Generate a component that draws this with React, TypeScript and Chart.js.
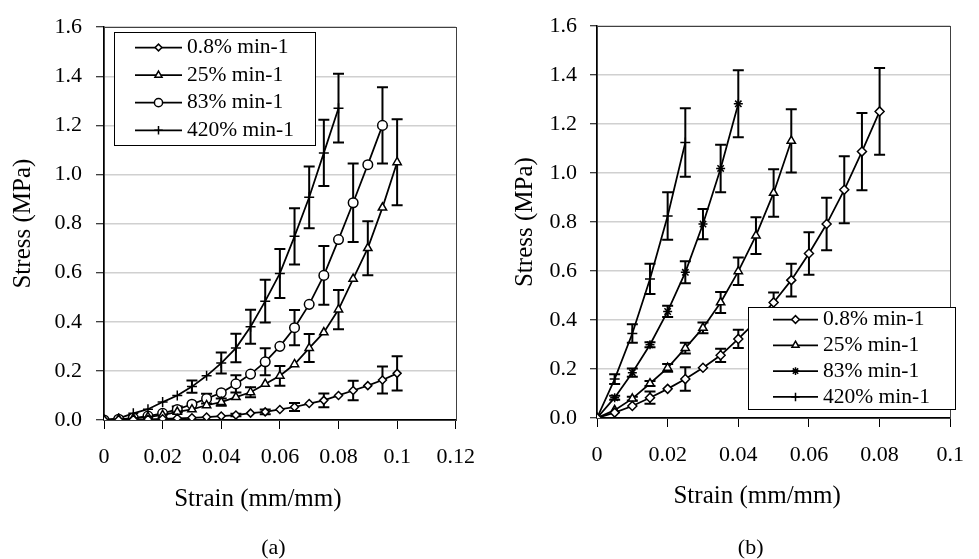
import React, { useEffect, useRef } from 'react';
import { Chart, registerables } from 'chart.js';
import { drawPoint } from 'chart.js/helpers';

Chart.register(...registerables);

const FONT = '"Liberation Serif", "Times New Roman", serif';

const SERIES_LABELS = ['0.8% min-1', '25% min-1', '83% min-1', '420% min-1'];

// strain sampling points (mm/mm)
const STRAIN = [
  0, 0.005, 0.01, 0.015, 0.02, 0.025, 0.03, 0.035, 0.04, 0.045, 0.05,
  0.055, 0.06, 0.065, 0.07, 0.075, 0.08, 0.085, 0.09, 0.095, 0.1,
];

// ---- panel (a) ----
const A_STRESS_08 = [0, 0.001, 0.002, 0.003, 0.005, 0.007, 0.009, 0.012, 0.016, 0.02, 0.028, 0.033, 0.043, 0.053, 0.067, 0.08, 0.1, 0.12, 0.14, 0.163, 0.19];
const A_ERR_08 = [0, 0, 0, 0, 0, 0, 0, 0, 0, 0.005, 0, 0.01, 0, 0.016, 0, 0.028, 0, 0.04, 0, 0.055, 0.07];
const A_STRESS_25 = [0, 0.003, 0.007, 0.013, 0.02, 0.033, 0.043, 0.06, 0.073, 0.093, 0.113, 0.147, 0.18, 0.227, 0.293, 0.357, 0.45, 0.575, 0.7, 0.865, 1.05];
const A_ERR_25 = [0, 0, 0, 0, 0, 0, 0, 0, 0.015, 0, 0.02, 0, 0.04, 0, 0.057, 0, 0.08, 0, 0.11, 0, 0.175];
const A_STRESS_83 = [0, 0.003, 0.008, 0.016, 0.027, 0.043, 0.064, 0.087, 0.111, 0.147, 0.187, 0.237, 0.3, 0.376, 0.471, 0.589, 0.735, 0.885, 1.04, 1.2];
const A_ERR_83 = [0, 0, 0, 0, 0, 0.012, 0, 0.02, 0, 0.035, 0, 0.055, 0, 0.072, 0, 0.12, 0, 0.16, 0, 0.155];
const A_STRESS_420 = [0, 0.007, 0.027, 0.044, 0.073, 0.1, 0.136, 0.18, 0.232, 0.293, 0.38, 0.484, 0.597, 0.748, 0.907, 1.088, 1.27];
const A_ERR_420 = [0, 0, 0, 0, 0, 0, 0.025, 0, 0.043, 0.058, 0.069, 0.087, 0.1, 0.115, 0.126, 0.135, 0.14];

// ---- panel (b) ----
const B_STRESS_08 = [0, 0.022, 0.049, 0.083, 0.119, 0.159, 0.205, 0.256, 0.323, 0.395, 0.472, 0.563, 0.672, 0.792, 0.932, 1.088, 1.252];
const B_ERR_08 = [0, 0, 0, 0.025, 0, 0.048, 0, 0.027, 0.037, 0, 0.041, 0.067, 0.087, 0.107, 0.137, 0.158, 0.177];
const B_STRESS_25 = [0, 0.032, 0.079, 0.141, 0.205, 0.285, 0.368, 0.472, 0.599, 0.745, 0.919, 1.132];
const B_ERR_25 = [0, 0, 0.008, 0.01, 0.016, 0.022, 0.022, 0.043, 0.056, 0.075, 0.097, 0.129];
const B_STRESS_83 = [0, 0.083, 0.185, 0.299, 0.435, 0.595, 0.792, 1.019, 1.283];
const B_ERR_83 = [0, 0.008, 0.017, 0.01, 0.023, 0.045, 0.062, 0.097, 0.137];
const B_STRESS_420 = [0, 0.159, 0.345, 0.568, 0.825, 1.125];
const B_ERR_420 = [0, 0.02, 0.038, 0.062, 0.097, 0.14];

// tick labels
const Y_TICKS = ['0.0', '0.2', '0.4', '0.6', '0.8', '1.0', '1.2', '1.4', '1.6'];
const X_TICKS_A = ['0', '0.02', '0.04', '0.06', '0.08', '0.1', '0.12'];
const X_TICKS_B = ['0', '0.02', '0.04', '0.06', '0.08', '0.1'];

const X_TITLE = 'Strain (mm/mm)';
const Y_TITLE = 'Stress (MPa)';

const errorBarPlugin = {
  id: 'errorBars',
  beforeDatasetsDraw(chart: any) {
    const { ctx } = chart;
    const xs = chart.scales.x;
    const ys = chart.scales.y;
    ctx.save();
    ctx.strokeStyle = '#000';
    ctx.lineWidth = 2;
    const cap = 5.5;
    chart.data.datasets.forEach((ds: any) => {
      const errs: number[] = ds.errors;
      if (!errs) return;
      ds.data.forEach((p: any, i: number) => {
        const e = errs[i];
        if (!e) return;
        const px = xs.getPixelForValue(p.x);
        const y1 = ys.getPixelForValue(p.y - e);
        const y2 = ys.getPixelForValue(p.y + e);
        ctx.beginPath();
        ctx.moveTo(px, y1);
        ctx.lineTo(px, y2);
        ctx.moveTo(px - cap, y1);
        ctx.lineTo(px + cap, y1);
        ctx.moveTo(px - cap, y2);
        ctx.lineTo(px + cap, y2);
        ctx.stroke();
      });
    });
    ctx.restore();
  },
};

const frameTextPlugin = {
  id: 'frameText',
  beforeDatasetsDraw(chart: any) {
    const { ctx, chartArea: a } = chart;
    ctx.save();
    ctx.strokeStyle = '#404040';
    ctx.lineWidth = 1;
    ctx.strokeRect(Math.round(a.left) + 0.5, Math.round(a.top) + 0.5, Math.round(a.right - a.left), Math.round(a.bottom - a.top));
    ctx.restore();
  },
  afterDraw(chart: any, _args: any, opts: any) {
    const { ctx } = chart;
    const xs = chart.scales.x;
    const cx = (xs.left + xs.right) / 2;
    ctx.save();
    ctx.fillStyle = '#000';
    ctx.textAlign = 'center';
    ctx.textBaseline = 'middle';
    ctx.font = `25px ${FONT}`;
    ctx.fillText(opts.title, cx + opts.titleDx, opts.titleY);
    ctx.font = `22px ${FONT}`;
    ctx.fillText(opts.caption, cx + opts.captionDx, opts.captionY);
    ctx.restore();
  },
};

const boxLegendPlugin = {
  id: 'boxLegend',
  afterDatasetsDraw(chart: any, _args: any, o: any) {
    const { ctx } = chart;
    ctx.save();
    ctx.fillStyle = '#fff';
    ctx.fillRect(o.x, o.y, o.w, o.h);
    ctx.strokeStyle = '#000';
    ctx.lineWidth = 1;
    ctx.strokeRect(o.x + 0.5, o.y + 0.5, o.w, o.h);
    chart.data.datasets.forEach((ds: any, i: number) => {
      const cy = o.y + o.rowStart + i * o.rowGap;
      ctx.beginPath();
      ctx.moveTo(o.lineX1, cy);
      ctx.lineTo(o.lineX2, cy);
      ctx.strokeStyle = '#000';
      ctx.lineWidth = ds.borderWidth;
      ctx.stroke();
      ctx.fillStyle = '#fff';
      ctx.strokeStyle = '#000';
      ctx.lineWidth = ds.pointBorderWidth;
      drawPoint(ctx, { pointStyle: ds.pointStyle, radius: ds.pointRadius * 0.85, rotation: 0, borderWidth: ds.pointBorderWidth } as any, (o.lineX1 + o.lineX2) / 2, cy);
      ctx.fillStyle = '#000';
      ctx.font = `21.5px ${FONT}`;
      ctx.textAlign = 'left';
      ctx.textBaseline = 'middle';
      ctx.fillText(ds.label, o.textX, cy);
    });
    ctx.restore();
  },
};

function series(label: string, values: number[], errs: number[], style: string, radius: number) {
  return {
    label,
    data: values.map((v, i) => ({ x: STRAIN[i], y: v })),
    errors: errs,
    showLine: true,
    borderColor: '#000',
    borderWidth: 1.75,
    pointStyle: style,
    pointRadius: radius,
    pointBackgroundColor: '#fff',
    pointBorderColor: '#000',
    pointBorderWidth: 1.5,
    tension: 0,
  };
}

function makeConfig(p: any) {
  return {
    type: 'scatter',
    data: { datasets: p.datasets },
    plugins: [errorBarPlugin, frameTextPlugin, boxLegendPlugin],
    options: {
      responsive: false,
      animation: false,
      layout: { padding: { top: p.padTop, right: p.padRight, left: 0, bottom: 0 } },
      plugins: {
        legend: { display: false },
        tooltip: { enabled: false },
        frameText: p.text,
        boxLegend: p.legend,
      },
      scales: {
        x: {
          type: 'linear',
          min: 0,
          max: p.xMax,
          afterFit: (s: any) => { s.height = p.xAxisH; },
          ticks: {
            stepSize: 0.02,
            padding: 15,
            color: '#000',
            font: { size: 22, family: FONT },
            maxRotation: 0,
            autoSkip: false,
            callback: (_v: any, i: number) => p.xTicks[i],
          },
          grid: { drawOnChartArea: false, tickLength: 9, tickColor: '#000', tickWidth: 1 },
          border: { color: '#000', width: 1.5 },
        },
        y: {
          type: 'linear',
          min: 0,
          max: 1.6,
          afterFit: (s: any) => { s.width = p.yAxisW; },
          ticks: {
            stepSize: 0.2,
            padding: p.yTickPad,
            color: '#000',
            font: { size: 22, family: FONT },
            autoSkip: false,
            callback: (_v: any, i: number) => Y_TICKS[i],
          },
          grid: { color: '#d0d0d0', lineWidth: 1.5, tickLength: p.yTickLen, tickColor: '#000', tickWidth: 1 },
          border: { color: '#000', width: 1.5 },
          title: {
            display: true,
            text: Y_TITLE,
            color: '#000',
            font: { size: 25, family: FONT },
            padding: { top: p.yTitlePad, bottom: 0 },
          },
        },
      },
    },
  };
}

const PANEL_A = {
  datasets: [
    series(SERIES_LABELS[0], A_STRESS_08, A_ERR_08, 'rectRot', 4),
    series(SERIES_LABELS[1], A_STRESS_25, A_ERR_25, 'triangle', 4.8),
    series(SERIES_LABELS[2], A_STRESS_83, A_ERR_83, 'circle', 4.8),
    series(SERIES_LABELS[3], A_STRESS_420, A_ERR_420, 'cross', 5),
  ],
  xMax: 0.12,
  xTicks: X_TICKS_A,
  padTop: 20,
  padRight: 27,
  xAxisH: 139,
  yAxisW: 104,
  yTickPad: 14,
  yTickLen: 8,
  yTitlePad: 8,
  text: { title: X_TITLE, titleDx: -22, titleY: 499, caption: '(a)', captionDx: -6.5, captionY: 548 },
  legend: { x: 114, y: 32, w: 201, h: 113, rowStart: 15.5, rowGap: 27.6, lineX1: 135, lineX2: 182, textX: 187 },
};

const PANEL_B = {
  datasets: [
    series(SERIES_LABELS[0], B_STRESS_08, B_ERR_08, 'rectRot', 4.5),
    series(SERIES_LABELS[1], B_STRESS_25, B_ERR_25, 'triangle', 4.8),
    series(SERIES_LABELS[2], B_STRESS_83, B_ERR_83, 'star', 4.5),
    series(SERIES_LABELS[3], B_STRESS_420, B_ERR_420, 'cross', 5),
  ],
  xMax: 0.1,
  xTicks: X_TICKS_B,
  padTop: 18,
  padRight: 14,
  xAxisH: 141,
  yAxisW: 107,
  yTickPad: 13,
  yTickLen: 7,
  yTitlePad: 20,
  text: { title: X_TITLE, titleDx: -16.5, titleY: 496, caption: '(b)', captionDx: -23, captionY: 548 },
  legend: { x: 258, y: 307, w: 207, h: 102, rowStart: 12.5, rowGap: 25.8, lineX1: 283, lineX2: 328, textX: 333 },
};

function Panel({ cfg, left, width }: { cfg: any; left: number; width: number }) {
  const ref = useRef<HTMLCanvasElement | null>(null);
  useEffect(() => {
    if (!ref.current) return;
    const chart = new Chart(ref.current, makeConfig(cfg) as any);
    return () => chart.destroy();
  }, [cfg]);
  return (
    <canvas
      ref={ref}
      width={width}
      height={559}
      style={{ position: 'absolute', left, top: 0, width, height: 559 }}
    />
  );
}

export default function App() {
  return (
    <div style={{ position: 'absolute', left: 0, top: 0, width: 979, height: 559, background: '#fff', overflow: 'hidden' }}>
      <Panel cfg={PANEL_A} left={0} width={490} />
      <Panel cfg={PANEL_B} left={490} width={489} />
    </div>
  );
}
